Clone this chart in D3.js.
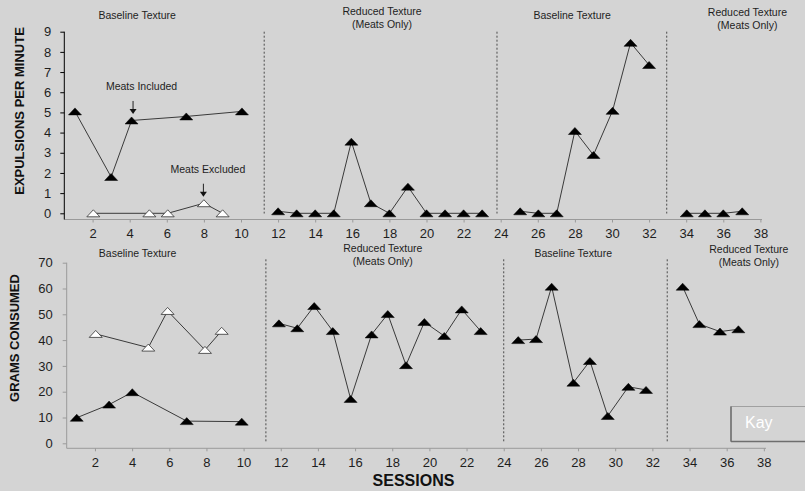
<!DOCTYPE html>
<html>
<head>
<meta charset="utf-8">
<script src="https://cdn.jsdelivr.net/npm/d3@7"></script>
<style>
  html, body { margin: 0; padding: 0; background: #d4d4d4; }
  svg { display: block; font-family: Arial, "Liberation Sans", sans-serif; }
</style>
</head>
<body>
<svg id="chart" width="805" height="491"></svg>
<script>
// ---- Expulsions per minute (top panel) ----
const expInclBase1Sessions = [1.05, 3, 4.1, 7.05, 10.05];
const expInclBase1Values   = [5.05, 1.8, 4.6, 4.8, 5.05];
const expExclBase1Sessions = [2.04, 5.06, 6.05, 8.0, 9.01];
const expExclBase1Values   = [0, 0, 0, 0.5, 0];
const expReduced1Sessions  = [12, 13, 14, 15, 15.95, 17, 18, 19, 20, 21, 22, 23];
const expReduced1Values    = [0.1, 0, 0, 0, 3.55, 0.5, 0, 1.32, 0, 0, 0, 0];
const expBase2Sessions     = [25.05, 26.03, 27.02, 28, 29, 30.03, 31, 32];
const expBase2Values       = [0.1, 0, 0, 4.08, 2.89, 5.08, 8.45, 7.35];
const expReduced2Sessions  = [34.03, 35.01, 36, 37.02];
const expReduced2Values    = [0, 0, 0, 0.1];

// ---- Grams consumed (bottom panel) ----
const gramsInclBase1Sessions = [1.02, 2.76, 4.01, 6.94, 9.9];
const gramsInclBase1Values   = [9.9, 15.0, 19.8, 8.6, 8.4];
const gramsExclBase1Sessions = [2.04, 4.87, 5.91, 7.92, 8.82];
const gramsExclBase1Values   = [42.4, 37.1, 51.3, 36.2, 43.6];
const gramsReduced1Sessions  = [11.9, 12.89, 13.8, 14.8, 15.76, 16.89, 17.76, 18.74, 19.73, 20.8, 21.74, 22.76];
const gramsReduced1Values    = [46.5, 44.6, 53.2, 43.5, 17.2, 42.2, 50.1, 30.3, 47.0, 41.6, 51.9, 43.5];
const gramsBase2Sessions     = [24.78, 25.74, 26.58, 27.75, 28.64, 29.6, 30.71, 31.66];
const gramsBase2Values       = [40.0, 40.4, 60.7, 23.5, 31.9, 10.6, 21.9, 20.7];
const gramsReduced2Sessions  = [33.63, 34.53, 35.64, 36.63];
const gramsReduced2Values    = [60.7, 46.2, 43.3, 44.2];

// ---- Axes, phases and labels ----
const sessionTicks   = [2, 4, 6, 8, 10, 12, 14, 16, 18, 20, 22, 24, 26, 28, 30, 32, 34, 36, 38];
const expTicks       = [0, 1, 2, 3, 4, 5, 6, 7, 8, 9];
const gramsTicks     = [0, 10, 20, 30, 40, 50, 60, 70];
const topPhaseChanges    = [11.25, 23.8, 32.95];
const bottomPhaseChanges = [11.2, 24.0, 32.8];
const phaseNames   = [["Baseline Texture"], ["Reduced Texture", "(Meats Only)"], ["Baseline Texture"], ["Reduced Texture", "(Meats Only)"]];
const phaseCenters = [4.4, 17.6, 27.85, 37.3];
const annotations  = [
  { text: "Meats Included", session: 4.1, value: 4.6 },
  { text: "Meats Excluded", session: 8.0, value: 0.5 }
];
const participant = "Kay";

const svg = d3.select("#chart");
svg.append("rect").attr("width", 805).attr("height", 491).attr("fill", "#d4d4d4");

const LINE = "#3a3a3a";
const AXIS_GRAY = "#9a9a9a";
const TEXT = "#1e1e1e";
const triangle = "M-6.5,3.5L6.5,3.5L0,-3.5Z";

// scales for each panel
const xTop = d3.scaleLinear().domain([0, 38]).range([55.5, 55.5 + 18.55 * 38]);
const yTop = d3.scaleLinear().domain([0, 9]).range([213.3, 31.7]);
const xBot = d3.scaleLinear().domain([0, 38]).range([57.8, 57.8 + 18.58 * 38]);
const yBot = d3.scaleLinear().domain([0, 70]).range([443.3, 262.7]);

function drawSeries(g, x, y, sessions, values, open) {
  const pts = sessions.map((s, i) => [x(s), y(values[i])]);
  g.append("path")
    .attr("d", d3.line()(pts))
    .attr("fill", "none")
    .attr("stroke", LINE)
    .attr("stroke-width", 1);
  g.selectAll(null).data(pts).enter().append("path")
    .attr("d", triangle)
    .attr("transform", d => `translate(${d[0]},${d[1]})`)
    .attr("fill", open ? "#ffffff" : "#000000")
    .attr("stroke", open ? "#333333" : "#000000")
    .attr("stroke-width", open ? 0.8 : 0.5);
}

function drawPanel(opt) {
  const g = svg.append("g");
  const { x, y, yAxisX, xAxisY, xAxisEnd, yTicks, yAxisColor, phaseChanges, phaseTop, phaseBottom, labelY } = opt;

  // x axis
  const xa = g.append("g").attr("transform", `translate(0,${xAxisY})`)
    .call(d3.axisBottom(x).tickValues(sessionTicks).tickSize(3).tickPadding(6.5).tickFormat(d3.format("d")));
  xa.select(".domain").remove();
  xa.selectAll(".tick line").attr("stroke", AXIS_GRAY);
  xa.selectAll(".tick text").attr("fill", TEXT).style("font-size", "13px");
  g.append("line").attr("x1", yAxisX).attr("x2", xAxisEnd).attr("y1", xAxisY).attr("y2", xAxisY)
    .attr("stroke", AXIS_GRAY).attr("stroke-width", 1);

  // y axis
  const ya = g.append("g").attr("transform", `translate(${yAxisX},0)`)
    .call(d3.axisLeft(y).tickValues(yTicks).tickSize(4).tickPadding(opt.yPad).tickFormat(d3.format("d")));
  ya.select(".domain").remove();
  ya.selectAll(".tick line").attr("stroke", yAxisColor);
  ya.selectAll(".tick text").attr("fill", TEXT).style("font-size", "13px");
  g.append("line").attr("x1", yAxisX).attr("x2", yAxisX).attr("y1", y(yTicks[yTicks.length - 1])).attr("y2", xAxisY)
    .attr("stroke", yAxisColor).attr("stroke-width", 1);

  // phase change lines
  g.selectAll(null).data(phaseChanges).enter().append("line")
    .attr("x1", d => x(d)).attr("x2", d => x(d))
    .attr("y1", phaseTop).attr("y2", phaseBottom)
    .attr("stroke", "#4a4a4a").attr("stroke-width", 1).attr("stroke-dasharray", "2,2");

  // phase labels
  phaseNames.forEach((lines, i) => {
    const t = g.append("text").attr("text-anchor", "middle").attr("fill", TEXT).style("font-size", "10.5px");
    const base = lines.length === 1 ? labelY.single : labelY.double[i === 3 ? 1 : 0];
    lines.forEach((ln, j) => {
      t.append("tspan").attr("x", x(phaseCenters[i]) + (opt.labelShift || 0)).attr("y", base + j * 13.2).text(ln);
    });
  });
  return g;
}

// top panel
const gTop = drawPanel({
  x: xTop, y: yTop, yAxisX: 64.3, xAxisY: 219.5, xAxisEnd: 762, yTicks: expTicks, yAxisColor: "#000000",
  yPad: 9, phaseChanges: topPhaseChanges, phaseTop: 31.7, phaseBottom: 213.5,
  labelY: { single: 18.7, double: [15, 16] }
});
drawSeries(gTop, xTop, yTop, expInclBase1Sessions, expInclBase1Values, false);
drawSeries(gTop, xTop, yTop, expExclBase1Sessions, expExclBase1Values, true);
drawSeries(gTop, xTop, yTop, expReduced1Sessions, expReduced1Values, false);
drawSeries(gTop, xTop, yTop, expBase2Sessions, expBase2Values, false);
drawSeries(gTop, xTop, yTop, expReduced2Sessions, expReduced2Values, false);

// annotation arrows with labels
const annoOffsets = [{ ax: 1.5, tx: 10 }, { ax: -0.5, tx: 4 }];
annotations.forEach((a, i) => {
  const px = xTop(a.session) + annoOffsets[i].ax;
  const tip = yTop(a.value) - 6.5;
  const tail = tip - 13;
  gTop.append("line").attr("x1", px).attr("x2", px).attr("y1", tail).attr("y2", tip - 4)
    .attr("stroke", "#222").attr("stroke-width", 1);
  gTop.append("path").attr("d", `M${px - 3.5},${tip - 5}L${px + 3.5},${tip - 5}L${px},${tip}Z`).attr("fill", "#111");
  gTop.append("text").attr("x", xTop(a.session) + annoOffsets[i].tx).attr("y", tail - 11)
    .attr("text-anchor", "middle").attr("fill", TEXT).style("font-size", "10.5px").text(a.text);
});

// bottom panel
const gBot = drawPanel({
  x: xBot, y: yBot, yAxisX: 66.7, xAxisY: 448.3, xAxisEnd: 766, yTicks: gramsTicks, yAxisColor: AXIS_GRAY,
  yPad: 10, phaseChanges: bottomPhaseChanges, phaseTop: 259.3, phaseBottom: 443.3,
  labelY: { single: 256.5, double: [251.7, 253] }, labelShift: -2
});
drawSeries(gBot, xBot, yBot, gramsInclBase1Sessions, gramsInclBase1Values, false);
drawSeries(gBot, xBot, yBot, gramsExclBase1Sessions, gramsExclBase1Values, true);
drawSeries(gBot, xBot, yBot, gramsReduced1Sessions, gramsReduced1Values, false);
drawSeries(gBot, xBot, yBot, gramsBase2Sessions, gramsBase2Values, false);
drawSeries(gBot, xBot, yBot, gramsReduced2Sessions, gramsReduced2Values, false);

// axis titles
svg.append("text").attr("transform", "translate(24,111) rotate(-90)")
  .attr("text-anchor", "middle").attr("fill", "#111").style("font-size", "13px").style("font-weight", "bold")
  .text("EXPULSIONS PER MINUTE");
svg.append("text").attr("transform", "translate(19,338) rotate(-90)")
  .attr("text-anchor", "middle").attr("fill", "#111").style("font-size", "13px").style("font-weight", "bold")
  .text("GRAMS CONSUMED");
svg.append("text").attr("x", 413.5).attr("y", 486)
  .attr("text-anchor", "middle").attr("fill", "#111").style("font-size", "16px").style("font-weight", "bold")
  .text("SESSIONS");

// participant box
const box = svg.append("g");
box.append("rect").attr("x", 731).attr("y", 406.5).attr("width", 90).attr("height", 35)
  .attr("fill", "#d4d4d4").attr("stroke", "#a0a0a0").attr("stroke-width", 1);
box.append("line").attr("x1", 731).attr("x2", 731).attr("y1", 406.5).attr("y2", 441.5).attr("stroke", "#6e6e6e").attr("stroke-width", 1.5);
box.append("line").attr("x1", 731).attr("x2", 805).attr("y1", 441.5).attr("y2", 441.5).attr("stroke", "#6e6e6e").attr("stroke-width", 1.5);
box.append("text").attr("x", 745).attr("y", 427.5).attr("fill", "#ffffff").style("font-size", "16px").text(participant);
</script>
</body>
</html>
